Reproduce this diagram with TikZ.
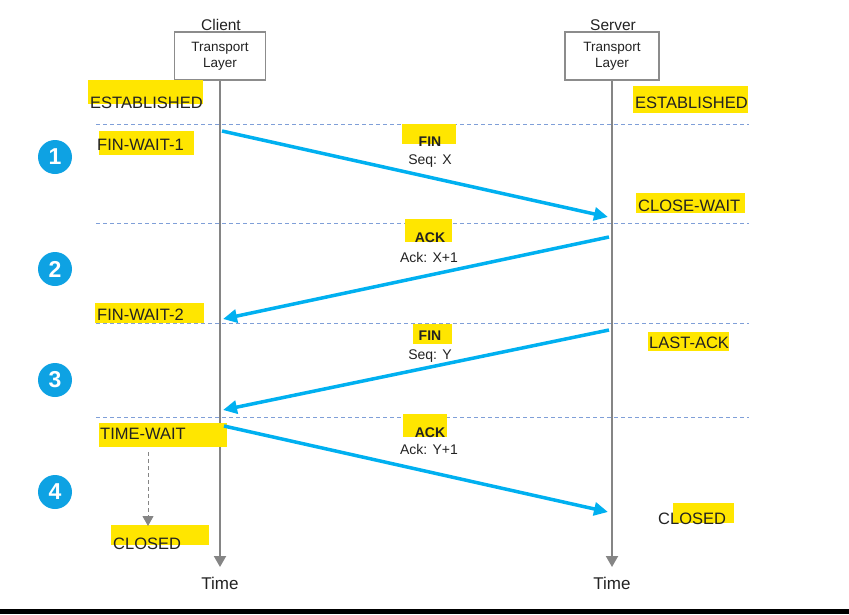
\documentclass[tikz,border=0pt]{standalone}
\usepackage{fontspec}
\setmainfont{Liberation Sans}
\usepackage{xcolor}
\usetikzlibrary{arrows.meta}

\definecolor{msgblue}{HTML}{00B0F0}
\definecolor{numblue}{HTML}{0EA2E3}
\definecolor{phaseblue}{HTML}{7F9FD8}
\definecolor{marker}{HTML}{FFE600}
\definecolor{linegray}{HTML}{858585}
\definecolor{boxgray}{HTML}{8C8C8C}
\definecolor{textblack}{HTML}{222222}

\begin{document}
\begin{tikzpicture}[
    x=1pt, y=-1pt,
    layerbox/.style={rectangle, draw=boxgray, line width=1.2pt, fill=white, minimum width=91pt, minimum height=48pt, align=center, inner sep=0pt, text=textblack, font=\fontsize{13.5}{16}\selectfont},
    title/.style={anchor=base, inner sep=0pt, text=textblack, font=\fontsize{15.5}{18}\selectfont},
    lifeline/.style={draw=linegray, line width=2pt, -{Triangle[length=11pt, width=12pt]}},
    phase/.style={dash pattern=on 4pt off 3pt, draw=phaseblue, line width=1pt},
    phasenum/.style={circle, fill=numblue, minimum size=34pt, inner sep=0pt, text=white, font=\fontsize{23}{23}\selectfont\bfseries},
    message/.style={draw=msgblue, line width=3.5pt, -{Triangle[length=14pt, width=13pt]}},
    state/.style={anchor=base west, inner sep=0pt, text=textblack, font=\fontsize{16.5}{18}\selectfont},
    msglabel/.style={anchor=base, inner sep=0pt, text=textblack, font=\fontsize{14}{16}\selectfont},
    msgflag/.style={msglabel, font=\fontsize{14}{16}\selectfont\bfseries},
    timer/.style={draw=linegray, line width=1pt, dash pattern=on 4pt off 3pt, -{Triangle[length=10pt, width=11pt]}}
    ]
    \useasboundingbox (0,0) rectangle (849,614);

    % Participants
    \node[title] (clienttitle) at (221,30) {Client};
    \node[title] (servertitle) at (613,30) {Server};
    \node[layerbox] (client) at (220,56) {Transport\\Layer};
    \node[layerbox, minimum width=94pt] (server) at (612,56) {Transport\\Layer};

    % Lifelines
    \coordinate (clientend) at (220,567);
    \coordinate (serverend) at (612,567);
    \draw[lifeline] (client.south) -- (clientend);
    \draw[lifeline] (server.south) -- (serverend);
    \node[title, font=\fontsize{17}{18}\selectfont] (clienttime) at (220,589) {Time};
    \node[title, font=\fontsize{17}{18}\selectfont] (servertime) at (612,589) {Time};

    % Phase separators and numbers
    \foreach \y in {124,223,323,417}
        \draw[phase] (96,\y) -- (749,\y);
    \foreach \n/\y in {1/157,2/269,3/380,4/492}
        \node[phasenum] (phase\n) at (55,\y) {\n};

    % Highlighter marks
    \fill[marker] (88,80) rectangle (203,104);
    \fill[marker] (99,131) rectangle (194,155);
    \fill[marker] (95,303) rectangle (204,323);
    \fill[marker] (99,423) rectangle (227,447);
    \fill[marker] (111,525) rectangle (209,545);
    \fill[marker] (633,86) rectangle (748,113);
    \fill[marker] (636,193) rectangle (745,213);
    \fill[marker] (648,332) rectangle (729,351);
    \fill[marker] (673,503) rectangle (734,523);
    \fill[marker] (402,124) rectangle (456,144);
    \fill[marker] (405,219) rectangle (452,242);
    \fill[marker] (413,324) rectangle (452,344);
    \fill[marker] (403,414) rectangle (447,437);

    % Client states
    \node[state] (estclient) at (90,108) {ESTABLISHED};
    \node[state] (finwait1) at (97,150) {FIN-WAIT-1};
    \node[state] (finwait2) at (97,320) {FIN-WAIT-2};
    \node[state] (timewait) at (100,439) {TIME-WAIT};
    \node[state] (closedclient) at (113,549) {CLOSED};

    % Server states
    \node[state] (estserver) at (635,108) {ESTABLISHED};
    \node[state] (closewait) at (638,211) {CLOSE-WAIT};
    \node[state] (lastack) at (649,348) {LAST-ACK};
    \node[state] (closedserver) at (658,524) {CLOSED};

    % Segments
    \coordinate (fin1from) at (222,131);
    \coordinate (fin1to) at (608,217);
    \coordinate (ack1from) at (609,237);
    \coordinate (ack1to) at (223,319);
    \coordinate (fin2from) at (609,330);
    \coordinate (fin2to) at (223,410);
    \coordinate (ack2from) at (224,426);
    \coordinate (ack2to) at (608,512);
    \draw[message] (fin1from) -- (fin1to);
    \draw[message] (ack1from) -- (ack1to);
    \draw[message] (fin2from) -- (fin2to);
    \draw[message] (ack2from) -- (ack2to);

    \node[msgflag] (fin1) at (430,146) {FIN};
    \node[msglabel] (seq1) at (430,164) {Seq: X};
    \node[msgflag] (ack1) at (430,242) {ACK};
    \node[msglabel] (acknum1) at (429,262) {Ack: X+1};
    \node[msgflag] (fin2) at (430,340) {FIN};
    \node[msglabel] (seq2) at (430,359) {Seq: Y};
    \node[msgflag] (ack2) at (430,437) {ACK};
    \node[msglabel] (acknum2) at (429,454) {Ack: Y+1};

    % Time-wait timeout
    \coordinate (timeout) at (148,452);
    \coordinate (timeoutend) at (148,526);
    \draw[timer] (timeout) -- (timeoutend);

    % Bottom rule
    \fill[black] (0,609) rectangle (849,614);
\end{tikzpicture}
\end{document}
